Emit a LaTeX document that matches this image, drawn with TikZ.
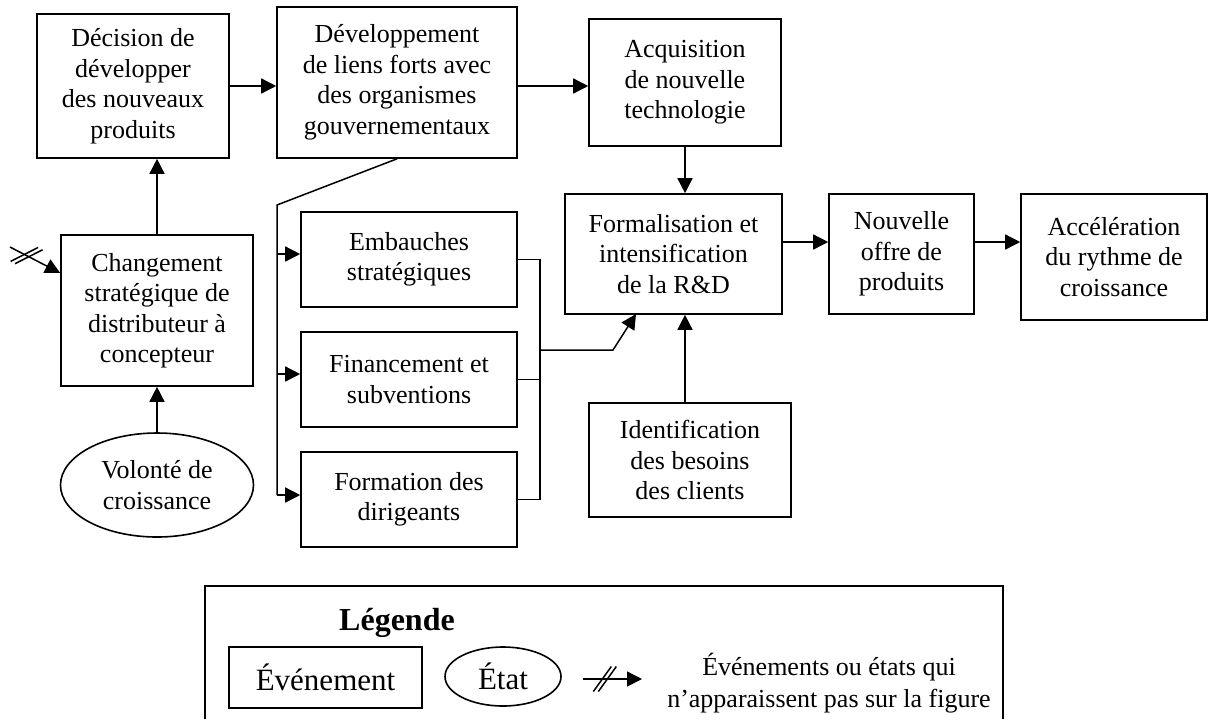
\documentclass[tikz,border=0pt]{standalone}
\usepackage{fontspec}
\setmainfont{Liberation Serif}
\usetikzlibrary{arrows.meta,shapes.geometric,decorations.markings}

\begin{document}
\begin{tikzpicture}[x=0.5pt,y=-0.5pt,
  every node/.style={font=\fontsize{13}{15.25}\selectfont, align=center, inner sep=0pt},
  ev/.style={draw, line width=0.8pt, rectangle},
  st/.style={draw, line width=0.8pt, ellipse},
  link/.style={line width=0.75pt},
  arr/.style={link, -{Triangle[length=7.5pt,width=7.5pt]}},
  cut/.style={postaction={decorate, decoration={markings, mark=at position #1 with {
      \draw[-, line width=0.75pt] (-5.75pt,-6.25pt) -- (3.25pt,6.25pt);
      \draw[-, line width=0.75pt] (-3.25pt,-6.25pt) -- (5.75pt,6.25pt);}}}},
]
\useasboundingbox (0,0) rectangle (1209,719);

% events and states
\node[ev, minimum width=96pt, minimum height=72pt] (dec) at (133,86)
  {Décision de\\développer\\des nouveaux\\produits};
\node[ev, minimum width=120pt, minimum height=75.5pt] (dev) at (397,82.5)
  {Développement\\de liens forts avec\\des organismes\\gouvernementaux};
\node[ev, minimum width=96pt, minimum height=63.5pt] (acq) at (685,82.5)
  {Acquisition\\de nouvelle\\technologie};
\node[ev, minimum width=96pt, minimum height=75.5pt] (chg) at (157,310.5)
  {Changement\\stratégique de\\distributeur à\\concepteur};
\node[st, minimum width=96.5pt, minimum height=52pt] (vol) at (157,485)
  {Volonté de\\croissance};
\node[ev, minimum width=108pt, minimum height=47.5pt] (emb) at (409,259.5)
  {Embauches\\stratégiques};
\node[ev, minimum width=108pt, minimum height=47.5pt] (fin) at (409,379.5)
  {Financement et\\subventions};
\node[ev, minimum width=108pt, minimum height=47.5pt] (frm) at (409,499.5)
  {Formation des\\dirigeants};
\node[ev, minimum width=108.5pt, minimum height=60pt] (for) at (673.5,254)
  {Formalisation et\\intensification\\de la R\&D};
\node[ev, minimum width=72.5pt, minimum height=60pt] (nou) at (901.5,254)
  {Nouvelle\\offre de\\produits};
\node[ev, minimum width=93pt, minimum height=63pt] (acc) at (1114,257)
  {Accélération\\du rythme de\\croissance};
\node[ev, minimum width=101pt, minimum height=57pt] (ide) at (690,460)
  {Identification\\des besoins\\des clients};

% top row
\coordinate (r0) at (0,86);
\draw[arr] (dec.east) -- (dec.east -| dev.west);
\draw[arr] (r0 -| dev.east) -- (r0 -| acq.west);
\draw[arr] (acq.south) -- (acq.south |- for.north);
\draw[arr] (ide.north -| acq.south) -- (acq.south |- for.south);

% right row
\coordinate (r1) at (0,242);
\draw[arr] (r1 -| for.east) -- (r1 -| nou.west);
\draw[arr] (r1 -| nou.east) -- (r1 -| acc.west);

% left column
\draw[arr] (chg.north) -- (chg.north |- dec.south);
\draw[arr] (vol.north) -- (chg.south);
\coordinate (ext) at (10,247);
\coordinate (e1) at (0,273);
\draw[arr, cut=0.33] (ext) -- (chg.west |- e1);

% distribution bus from the government links
\coordinate (bt) at (277,205);
\coordinate (ba) at (277,254);
\coordinate (bb) at (277,374);
\coordinate (bc) at (277,495);
\draw[link] (dev.south) -- (bt) -- (bc);
\draw[arr] (ba) -- (ba -| emb.west);
\draw[arr] (bb) -- (bb -| fin.west);
\draw[arr] (bc) -- (bc -| frm.west);

% gathering bracket towards R&D
\coordinate (k) at (540,0);
\draw[link] (emb.east) -- (emb.east -| k) -- (frm.east -| k) -- (frm.east);
\draw[link] (fin.east) -- (fin.east -| k);
\coordinate (j1) at (540,350);
\coordinate (j2) at (613,350);
\coordinate (j3) at (636,314);
\draw[arr] (j1) -- (j2) -- (j3);

% legend
\coordinate (L1) at (205,719);
\coordinate (L2) at (205,586);
\coordinate (L3) at (1003,586);
\coordinate (L4) at (1003,719);
\draw[line width=0.8pt] (L1) -- (L2) -- (L3) -- (L4);
\node[font=\bfseries\fontsize{16}{19}\selectfont, anchor=base] (lgt) at (397,630) {Légende};
\node[ev, minimum width=96.5pt, minimum height=30.5pt, font=\fontsize{15.5}{18}\selectfont] (lev) at (325.5,677.5) {Événement};
\node[st, minimum width=58pt, minimum height=29.5pt, font=\fontsize{15.5}{18}\selectfont] (lst) at (503,676.5) {État};
\coordinate (la) at (583,679);
\coordinate (lb) at (642,679);
\draw[arr, cut=0.37] (la) -- (lb);
\node[font=\fontsize{13}{16}\selectfont] (lnote) at (829,683)
  {Événements ou états qui\\n’apparaissent pas sur la figure};
\end{tikzpicture}
\end{document}
